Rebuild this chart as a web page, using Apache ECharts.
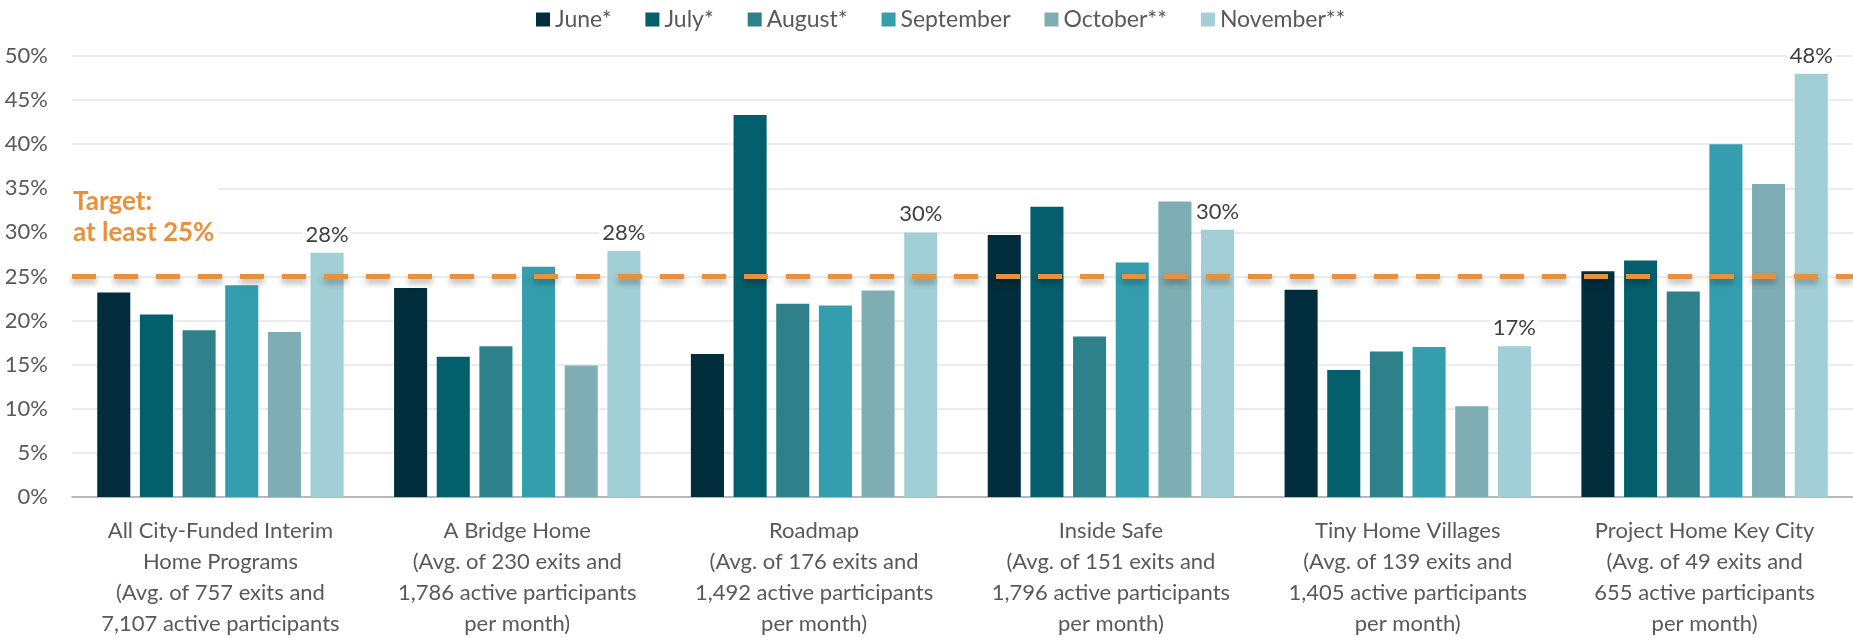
<!DOCTYPE html>
<html>
<head>
<meta charset="utf-8">
<script src="https://cdn.jsdelivr.net/npm/echarts@6/dist/echarts.min.js"></script>
<style>
  html, body { margin: 0; padding: 0; background: #fff; }
  #chart { width: 1853px; height: 638px; }
</style>
</head>
<body>
<div id="chart"></div>
<script>
// programs (x axis)
const programs = [
    'All City-Funded Interim\nHome Programs\n(Avg. of 757 exits and\n7,107 active participants',
    'A Bridge Home\n(Avg. of 230 exits and\n1,786 active participants\nper month)',
    'Roadmap\n(Avg. of 176 exits and\n1,492 active participants\nper month)',
    'Inside Safe\n(Avg. of 151 exits and\n1,796 active participants\nper month)',
    'Tiny Home Villages\n(Avg. of 139 exits and\n1,405 active participants\nper month)',
    'Project Home Key City\n(Avg. of 49 exits and\n655 active participants\nper month)'
];

const months = ['June*', 'July*', 'August*', 'September', 'October**', 'November**'];
const monthColors = ['#022d3d', '#035f6b', '#2e808b', '#349eae', '#7eadb4', '#a2ced5'];

// percent of exits per month
const june = [23.2, 23.7, 16.2, 29.7, 23.5, 25.6];
const july = [20.7, 15.9, 43.3, 32.9, 14.4, 26.8];
const august = [18.9, 17.1, 21.9, 18.2, 16.5, 23.3];
const september = [24.0, 26.1, 21.7, 26.6, 17.0, 40.0];
const october = [18.7, 14.9, 23.4, 33.5, 10.3, 35.5];
const november = [27.7, 27.9, 30.0, 30.3, 17.1, 48.0];

const target = 25;
const yTicks = { min: 0, max: 50, interval: 5 };

const FONT = 'Lato, "Open Sans", sans-serif';

const seriesValues = [june, july, august, september, october, november];

const series = seriesValues.map((values, i) => ({
    name: months[i],
    type: 'bar',
    data: values,
    itemStyle: { color: monthColors[i] },
    barGap: '29%',
    barCategoryGap: '17%',
    label: i === 5 ? {
        show: true,
        position: 'top',
        distance: 7,
        formatter: p => Math.round(p.value) + '%',
        fontFamily: FONT,
        fontSize: 22,
        color: '#404040',
        backgroundColor: '#fff',
        padding: [0, 3]
    } : { show: false }
}));

// target line
series.push({
    name: 'target',
    type: 'line',
    data: [],
    markLine: {
        silent: true,
        symbol: 'none',
        z: 6,
        label: { show: false },
        lineStyle: {
            color: '#e8913a',
            width: 5,
            type: [24, 18],
            shadowColor: 'rgba(0,0,0,0.35)',
            shadowBlur: 6,
            shadowOffsetY: 4
        },
        data: [{ yAxis: target }]
    }
});

const chart = echarts.init(document.getElementById('chart'));

chart.setOption({
    animation: false,
    textStyle: { fontFamily: FONT },
    legend: {
        data: months,
        top: 3,
        left: 531,
        icon: 'rect',
        itemWidth: 14,
        itemHeight: 14,
        itemGap: 34,
        textStyle: { fontFamily: FONT, fontSize: 23, color: '#595959' }
    },
    grid: { left: 72, right: 0, top: 56, bottom: 141, outerBoundsMode: 'none' },
    xAxis: {
        type: 'category',
        data: programs,
        axisTick: { show: false },
        axisLine: { lineStyle: { color: '#a6a6a6', width: 1.5 } },
        axisLabel: {
            interval: 0,
            margin: 18,
            fontFamily: FONT,
            fontSize: 22,
            lineHeight: 31,
            color: '#595959'
        }
    },
    yAxis: {
        type: 'value',
        min: yTicks.min,
        max: yTicks.max,
        interval: yTicks.interval,
        axisLabel: {
            margin: 24,
            formatter: '{value}%',
            fontFamily: FONT,
            fontSize: 22,
            color: '#595959'
        },
        splitLine: { lineStyle: { color: '#e6e6e6', width: 1.5 } }
    },
    graphic: [{
        type: 'text',
        left: 73,
        top: 186,
        z: 10,
        style: {
            text: 'Target:\nat least 25%',
            fontFamily: FONT,
            fontSize: 26,
            fontWeight: 'bold',
            lineHeight: 31,
            fill: '#e8913a',
            backgroundColor: '#fff',
            padding: [0, 4, 0, 0]
        }
    }],
    series: series
});
</script>
</body>
</html>
